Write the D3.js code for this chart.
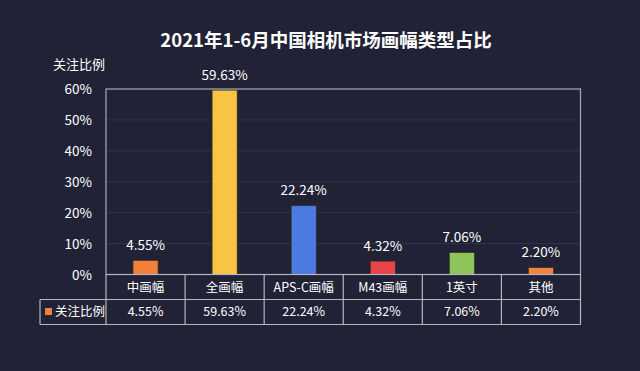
<!DOCTYPE html>
<meta charset="utf-8">
<style>
  body { margin: 0; background: #212236; }
  svg { display: block; font-family: "Noto Sans CJK SC", "Noto Sans", sans-serif; }
  .grid line { stroke: #33354b; stroke-width: 1px; }
  .frame { fill: none; stroke: #a9abb6; stroke-width: 1.2px; }
  .tbl line { stroke: #b4b6c0; stroke-width: 1.2px; }
  text { fill: #fff; }
</style>
<body>
<script src="https://d3js.org/d3.v7.min.js"></script>
<script>
  // chart data
  var categories = ["中画幅", "全画幅", "APS-C画幅", "M43画幅", "1英寸", "其他"];
  var values = [4.55, 59.63, 22.24, 4.32, 7.06, 2.20];
  var barColors = ["#f0803c", "#f7c443", "#4b7be0", "#e8444a", "#8dc55a", "#ef843f"];
  var yTicks = [0, 10, 20, 30, 40, 50, 60];
  var seriesName = "关注比例";
  var title = "2021年1-6月中国相机市场画幅类型占比";

  var W = 640, H = 371;
  // plot box and table rows ("top" is taken by window, so prefix them)
  var pLeft = 106, pRight = 580.5, pTop = 89, pBottom = 274.5;
  var row1 = 299.5, row2 = 324.5, legendLeft = 40;

  var svg = d3.select("body").append("svg")
    .attr("width", W)
    .attr("height", H);

  svg.append("rect").attr("width", W).attr("height", H).attr("fill", "#212236");

  var x = d3.scaleBand()
    .domain(categories)
    .range([pLeft, pRight]);

  var y = d3.scaleLinear()
    .domain([0, 60])
    .range([pBottom, pTop]);

  // title
  svg.append("text")
    .attr("x", 326)
    .attr("y", 47)
    .attr("text-anchor", "middle")
    .style("font-size", "18.5px")
    .style("font-weight", "bold")
    .text(title);

  // y axis name
  svg.append("text")
    .attr("x", 79)
    .attr("y", 69)
    .attr("text-anchor", "middle")
    .style("font-size", "13px")
    .text(seriesName);

  // gridlines
  svg.append("g").attr("class", "grid")
    .selectAll("line")
    .data(yTicks.slice(1, -1))
    .enter().append("line")
    .attr("x1", pLeft).attr("x2", pRight)
    .attr("y1", function (d) { return y(d); })
    .attr("y2", function (d) { return y(d); });

  // y axis labels
  var yAxis = d3.axisLeft(y)
    .tickValues(yTicks)
    .tickSize(0)
    .tickPadding(14)
    .tickFormat(function (d) { return d + "%"; });

  var ya = svg.append("g")
    .attr("transform", "translate(" + pLeft + ",0)")
    .call(yAxis);
  ya.select(".domain").remove();
  ya.selectAll("text")
    .attr("fill", "#fff")
    .attr("dy", "0.36em")
    .style("font-size", "13.5px")
    .style("font-family", "'Noto Sans CJK SC', sans-serif");

  // bars
  var bw = 25;
  svg.append("g")
    .selectAll("rect")
    .data(values)
    .enter().append("rect")
    .attr("x", function (d, i) { return x(categories[i]) + x.bandwidth() / 2 - bw / 2; })
    .attr("y", function (d) { return y(d); })
    .attr("width", bw)
    .attr("height", function (d) { return y(0) - y(d); })
    .attr("fill", function (d, i) { return barColors[i]; })
    .attr("stroke", "#3a3020")
    .attr("stroke-width", 0.6);

  // value labels
  svg.append("g")
    .selectAll("text")
    .data(values)
    .enter().append("text")
    .attr("x", function (d, i) { return x(categories[i]) + x.bandwidth() / 2; })
    .attr("y", function (d) { return y(d) - 10.5; })
    .attr("text-anchor", "middle")
    .style("font-size", "13.5px")
    .text(function (d) { return d.toFixed(2) + "%"; });

  // plot frame
  svg.append("rect")
    .attr("class", "frame")
    .attr("x", pLeft).attr("y", pTop)
    .attr("width", pRight - pLeft).attr("height", pBottom - pTop);

  // data table
  var tbl = svg.append("g").attr("class", "tbl");
  var hLines = [[pLeft, pRight, pBottom], [legendLeft, pRight, row1], [legendLeft, pRight, row2]];
  tbl.selectAll(".h")
    .data(hLines)
    .enter().append("line")
    .attr("x1", function (d) { return d[0]; })
    .attr("x2", function (d) { return d[1]; })
    .attr("y1", function (d) { return d[2]; })
    .attr("y2", function (d) { return d[2]; });

  var cuts = categories.map(function (c) { return x(c); }).concat([pRight]);
  tbl.selectAll(".v")
    .data(cuts)
    .enter().append("line")
    .attr("x1", function (d) { return d; })
    .attr("x2", function (d) { return d; })
    .attr("y1", pBottom)
    .attr("y2", row2);
  tbl.append("line")
    .attr("x1", legendLeft).attr("x2", legendLeft)
    .attr("y1", row1).attr("y2", row2);

  // category row
  svg.append("g")
    .selectAll("text")
    .data(categories)
    .enter().append("text")
    .attr("x", function (d) { return x(d) + x.bandwidth() / 2; })
    .attr("y", (pBottom + row1) / 2)
    .attr("dy", "0.36em")
    .attr("text-anchor", "middle")
    .style("font-size", "12.5px")
    .text(function (d) { return d; });

  // value row
  svg.append("g")
    .selectAll("text")
    .data(values)
    .enter().append("text")
    .attr("x", function (d, i) { return x(categories[i]) + x.bandwidth() / 2; })
    .attr("y", (row1 + row2) / 2 - 0.5)
    .attr("dy", "0.36em")
    .attr("text-anchor", "middle")
    .style("font-size", "12.5px")
    .text(function (d) { return d.toFixed(2) + "%"; });

  // legend key in table
  svg.append("rect")
    .attr("x", 45).attr("y", (row1 + row2) / 2 - 4)
    .attr("width", 7).attr("height", 7)
    .attr("fill", barColors[0]);
  svg.append("text")
    .attr("x", 55)
    .attr("y", (row1 + row2) / 2 - 0.5)
    .attr("dy", "0.36em")
    .style("font-size", "12.5px")
    .text(seriesName);
</script>
</body>
